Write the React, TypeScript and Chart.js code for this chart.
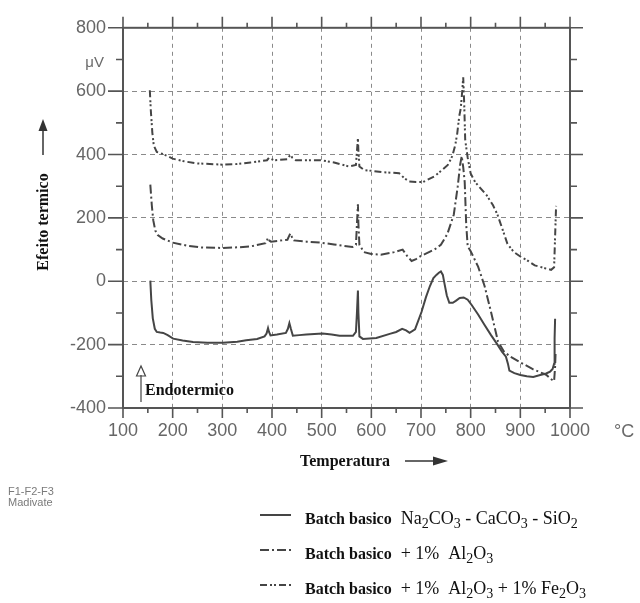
import React, { useEffect, useRef } from "react";
import { Chart, registerables } from "chart.js";

Chart.register(...registerables);

// ---- data (temperature °C, thermal effect µV) ----
const basicT = [155, 157, 160, 164, 168, 175, 181, 190, 201, 220, 241, 270, 301, 330, 348, 370, 385, 389, 392, 394, 397, 410, 428, 432, 435, 438, 442, 455, 469, 502, 520, 536, 555, 563, 569, 571, 573, 574, 576, 583, 610, 637, 650, 662, 670, 677, 688, 701, 710, 718, 725, 731, 736, 740, 744, 747, 752, 757, 764, 770, 778, 786, 794, 802, 815, 828, 841, 854, 863, 871, 875, 878, 888, 900, 913, 926, 940, 952, 960, 965, 968, 969, 970];
const basicV = [2, -60, -117, -150, -160, -162, -163, -170, -181, -187, -192, -194, -194, -191, -186, -182, -174, -165, -148, -160, -171, -168, -163, -150, -132, -150, -172, -170, -168, -165, -168, -172, -172, -172, -160, -100, -29, -100, -174, -182, -179, -166, -160, -150, -155, -163, -152, -97, -50, -15, 10, 20, 27, 31, 20, -5, -45, -68, -68, -62, -53, -51, -58, -75, -105, -138, -170, -200, -222, -238, -260, -282, -290, -296, -300, -302, -296, -291, -285, -277, -260, -180, -118];

const alT = [155, 158, 161, 165, 170, 180, 200, 230, 256, 301, 330, 357, 387, 390, 392, 395, 398, 431, 435, 437, 440, 444, 470, 498, 525, 562, 569, 571, 573, 574, 576, 585, 600, 619, 646, 663, 672, 681, 690, 700, 727, 740, 753, 766, 774, 779, 782, 785, 788, 791, 794, 800, 815, 828, 841, 855, 867, 880, 900, 926, 952, 963, 968, 970, 971];
const alV = [305, 240, 192, 160, 146, 135, 122, 112, 107, 105, 107, 110, 120, 130, 137, 128, 125, 131, 145, 151, 140, 129, 125, 122, 116, 108, 115, 180, 243, 180, 115, 92, 86, 84, 92, 100, 80, 64, 70, 80, 100, 115, 149, 210, 300, 370, 395, 360, 313, 180, 110, 95, 46, -15, -97, -190, -222, -238, -256, -278, -295, -310, -315, -270, -225];

const feT = [154, 156, 159, 162, 168, 178, 190, 200, 225, 249, 301, 330, 357, 390, 394, 397, 404, 431, 435, 437, 441, 448, 498, 525, 555, 569, 571, 573, 574, 576, 586, 626, 656, 666, 676, 690, 704, 727, 740, 754, 763, 769, 773, 777, 780, 783, 785, 787, 789, 794, 800, 809, 820, 832, 845, 854, 865, 874, 887, 902, 913, 929, 939, 952, 962, 968, 970, 972];
const feV = [603, 540, 470, 428, 408, 403, 395, 387, 378, 372, 368, 370, 375, 382, 390, 387, 382, 385, 395, 398, 390, 382, 382, 375, 362, 367, 410, 451, 410, 362, 351, 344, 341, 326, 315, 313, 313, 331, 348, 367, 395, 430, 467, 521, 545, 600, 644, 560, 446, 390, 340, 313, 293, 272, 240, 210, 160, 118, 92, 76, 67, 50, 46, 40, 36, 44, 140, 238];

const xTickValues = [100, 200, 300, 400, 500, 600, 700, 800, 900, 1000];
const yTickValues = [-400, -200, 0, 200, 400, 600, 800];

const F_SANS = '"Liberation Sans", Arial, sans-serif';
const F_SERIF = '"Liberation Serif", "Times New Roman", serif';
const LINE = "#454545";
const DASH_AL = [9, 3, 2, 3];
const DASH_FE = [7, 3, 2, 2, 2, 3];

type Seg = { t: string; k: "b" | "r" | "s" };
const legendRows: { dash: number[]; y: number; segs: Seg[] }[] = [
  {
    dash: [],
    y: 524,
    segs: [
      { t: "Batch basico", k: "b" }, { t: "  Na", k: "r" }, { t: "2", k: "s" }, { t: "CO", k: "r" }, { t: "3", k: "s" },
      { t: " - CaCO", k: "r" }, { t: "3", k: "s" }, { t: " - SiO", k: "r" }, { t: "2", k: "s" },
    ],
  },
  {
    dash: DASH_AL,
    y: 559,
    segs: [
      { t: "Batch basico", k: "b" }, { t: "  + 1%  Al", k: "r" }, { t: "2", k: "s" }, { t: "O", k: "r" }, { t: "3", k: "s" },
    ],
  },
  {
    dash: DASH_FE,
    y: 594,
    segs: [
      { t: "Batch basico", k: "b" }, { t: "  + 1%  Al", k: "r" }, { t: "2", k: "s" }, { t: "O", k: "r" }, { t: "3", k: "s" },
      { t: " + 1% Fe", k: "r" }, { t: "2", k: "s" }, { t: "O", k: "r" }, { t: "3", k: "s" },
    ],
  },
];

const pts = (xs: number[], ys: number[]) => xs.map((x, i) => ({ x, y: ys[i] }));

const decorPlugin = {
  id: "decor",
  afterDraw(chart: any) {
    const { ctx, chartArea } = chart;
    const { left, right, top, bottom } = chartArea;
    const xs = chart.scales.x;
    const ys = chart.scales.y;
    ctx.save();
    // frame
    ctx.strokeStyle = "#555";
    ctx.lineWidth = 2;
    ctx.setLineDash([]);
    ctx.strokeRect(left, top, right - left, bottom - top);
    // ticks
    ctx.lineWidth = 1.6;
    ctx.beginPath();
    for (let v = 100; v <= 1000; v += 50) {
      const px = xs.getPixelForValue(v);
      const major = v % 100 === 0;
      ctx.moveTo(px, bottom);
      ctx.lineTo(px, bottom + (major ? 10 : 5));
      ctx.moveTo(px, top);
      ctx.lineTo(px, top - (major ? 11 : 5));
    }
    for (let v = -400; v <= 800; v += 100) {
      const py = ys.getPixelForValue(v);
      const major = v % 200 === 0;
      ctx.moveTo(left, py);
      ctx.lineTo(left - (major ? 15 : 7), py);
      ctx.moveTo(right, py);
      ctx.lineTo(right + (major ? 13 : 7), py);
    }
    ctx.stroke();

    // unit labels
    ctx.fillStyle = "#6a6a6a";
    ctx.font = `15px ${F_SANS}`;
    ctx.textAlign = "right";
    ctx.textBaseline = "alphabetic";
    ctx.fillText("μV", 104, 67);
    ctx.font = `18px ${F_SANS}`;
    ctx.textAlign = "left";
    ctx.fillText("°C", 614, 437);

    // credits
    ctx.fillStyle = "#7a7a7a";
    ctx.font = `11px ${F_SANS}`;
    ctx.fillText("F1-F2-F3", 8, 495);
    ctx.fillText("Madivate", 8, 506);

    // axis titles
    ctx.fillStyle = "#111";
    ctx.font = `bold 16px ${F_SERIF}`;
    ctx.fillText("Temperatura", 300, 466);
    ctx.strokeStyle = "#333";
    ctx.lineWidth = 1.5;
    ctx.beginPath();
    ctx.moveTo(405, 461);
    ctx.lineTo(436, 461);
    ctx.stroke();
    ctx.fillStyle = "#333";
    ctx.beginPath();
    ctx.moveTo(448, 461);
    ctx.lineTo(433, 456.5);
    ctx.lineTo(433, 465.5);
    ctx.closePath();
    ctx.fill();

    ctx.save();
    ctx.translate(48, 222);
    ctx.rotate(-Math.PI / 2);
    ctx.textAlign = "center";
    ctx.fillStyle = "#111";
    ctx.fillText("Efeito termico", 0, 0);
    ctx.restore();
    ctx.beginPath();
    ctx.moveTo(43, 155);
    ctx.lineTo(43, 128);
    ctx.stroke();
    ctx.beginPath();
    ctx.moveTo(43, 119);
    ctx.lineTo(38.5, 131);
    ctx.lineTo(47.5, 131);
    ctx.closePath();
    ctx.fill();

    // Endotermico
    ctx.fillStyle = "#111";
    ctx.font = `bold 16px ${F_SERIF}`;
    ctx.textAlign = "left";
    ctx.fillText("Endotermico", 145, 395);
    ctx.strokeStyle = "#444";
    ctx.lineWidth = 1.2;
    ctx.beginPath();
    ctx.moveTo(141, 402);
    ctx.lineTo(141, 375);
    ctx.moveTo(136.5, 376);
    ctx.lineTo(141, 366);
    ctx.lineTo(145.5, 376);
    ctx.closePath();
    ctx.stroke();

    // legend
    for (const row of legendRows) {
      ctx.strokeStyle = LINE;
      ctx.lineWidth = 2;
      ctx.setLineDash(row.dash);
      ctx.beginPath();
      ctx.moveTo(260, row.y - 9);
      ctx.lineTo(291, row.y - 9);
      ctx.stroke();
      ctx.setLineDash([]);
      let x = 305;
      ctx.fillStyle = "#111";
      for (const s of row.segs) {
        let dy = 0;
        if (s.k === "b") ctx.font = `bold 16px ${F_SERIF}`;
        else if (s.k === "r") ctx.font = `18px ${F_SERIF}`;
        else {
          ctx.font = `14px ${F_SERIF}`;
          dy = 4;
        }
        ctx.fillText(s.t, x, row.y + dy);
        x += ctx.measureText(s.t).width;
      }
    }
    ctx.restore();
  },
};

export default function App() {
  const ref = useRef<HTMLCanvasElement | null>(null);
  useEffect(() => {
    if (!ref.current) return;
    const gridColor = (min: number, max: number) => (c: any) =>
      c.tick && (c.tick.value === min || c.tick.value === max) ? "rgba(0,0,0,0)" : "#8a8a8a";
    const chart = new Chart(ref.current, {
      type: "line",
      data: {
        datasets: [
          { label: "basic", data: pts(basicT, basicV), borderColor: LINE, borderWidth: 2, pointRadius: 0, tension: 0 },
          { label: "al", data: pts(alT, alV), borderColor: LINE, borderWidth: 2, pointRadius: 0, tension: 0, borderDash: DASH_AL },
          { label: "fe", data: pts(feT, feV), borderColor: LINE, borderWidth: 2, pointRadius: 0, tension: 0, borderDash: DASH_FE },
        ],
      },
      options: {
        animation: false,
        responsive: false,
        devicePixelRatio: 1,
        layout: { padding: { left: 0, right: 70, top: 19, bottom: 0 } },
        plugins: { legend: { display: false }, tooltip: { enabled: false }, title: { display: false } },
        events: [],
        scales: {
          x: {
            type: "linear",
            min: 100,
            max: 1000,
            afterFit: (s: any) => { s.height = 195; },
            afterBuildTicks: (s: any) => { s.ticks = xTickValues.map((v) => ({ value: v })); },
            ticks: {
              color: "#666",
              font: { size: 18, family: F_SANS },
              padding: 12,
              maxRotation: 0,
              autoSkip: false,
              callback: (v: any) => String(v),
            },
            grid: { color: gridColor(100, 1000), lineWidth: 1, drawTicks: false },
            border: { display: false, dash: [4, 4] },
          },
          y: {
            type: "linear",
            min: -400,
            max: 800,
            afterFit: (s: any) => { s.width = 123; },
            afterBuildTicks: (s: any) => { s.ticks = yTickValues.map((v) => ({ value: v })); },
            ticks: {
              color: "#666",
              font: { size: 18, family: F_SANS },
              padding: 17,
              autoSkip: false,
              callback: (v: any) => String(v),
            },
            grid: { color: gridColor(-400, 800), lineWidth: 1, drawTicks: false },
            border: { display: false, dash: [5, 4] },
          },
        },
      },
      plugins: [decorPlugin],
    } as any);
    return () => chart.destroy();
  }, []);
  return (
    <div style={{ position: "absolute", left: 0, top: 0, width: 640, height: 603, background: "#fff" }}>
      <canvas ref={ref} width={640} height={603} style={{ display: "block" }} />
    </div>
  );
}
